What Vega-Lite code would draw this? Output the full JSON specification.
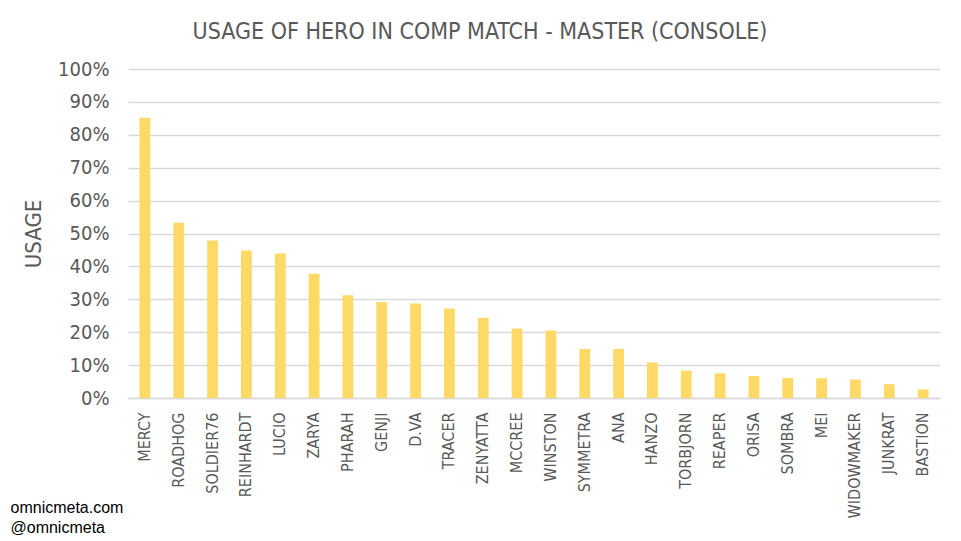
{
  "$schema": "https://vega.github.io/schema/vega-lite/v6.json",
  "width": 812,
  "height": 329,
  "autosize": {"type": "none"},
  "padding": {"left": 128, "top": 69, "right": 21, "bottom": 143},
  "background": "white",
  "title": {
    "text": "USAGE OF HERO IN COMP MATCH - MASTER (CONSOLE)",
    "font": "DejaVu Sans Condensed, Liberation Sans Narrow, sans-serif",
    "fontSize": 23,
    "fontWeight": "normal",
    "color": "#595959",
    "anchor": "middle",
    "dx": -54,
    "offset": 15
  },
  "data": {
    "values": [
      {"hero": "MERCY", "usage": 0.852},
      {"hero": "ROADHOG", "usage": 0.533},
      {"hero": "SOLDIER76", "usage": 0.479},
      {"hero": "REINHARDT", "usage": 0.448},
      {"hero": "LUCIO", "usage": 0.439},
      {"hero": "ZARYA", "usage": 0.378},
      {"hero": "PHARAH", "usage": 0.312},
      {"hero": "GENJI", "usage": 0.292},
      {"hero": "D.VA", "usage": 0.287},
      {"hero": "TRACER", "usage": 0.272},
      {"hero": "ZENYATTA", "usage": 0.244},
      {"hero": "MCCREE", "usage": 0.211},
      {"hero": "WINSTON", "usage": 0.205},
      {"hero": "SYMMETRA", "usage": 0.149},
      {"hero": "ANA", "usage": 0.149},
      {"hero": "HANZO", "usage": 0.108},
      {"hero": "TORBJORN", "usage": 0.083},
      {"hero": "REAPER", "usage": 0.075},
      {"hero": "ORISA", "usage": 0.067},
      {"hero": "SOMBRA", "usage": 0.061},
      {"hero": "MEI", "usage": 0.060},
      {"hero": "WIDOWMAKER", "usage": 0.056},
      {"hero": "JUNKRAT", "usage": 0.042},
      {"hero": "BASTION", "usage": 0.026}
    ]
  },
  "mark": {"type": "bar", "color": "#ffd966"},
  "encoding": {
    "x": {
      "field": "hero",
      "type": "nominal",
      "sort": null,
      "scale": {"paddingInner": 0.68, "paddingOuter": 0.34},
      "axis": {
        "title": ["omnicmeta.com", "@omnicmeta"],
        "titleFont": "Liberation Sans, Arial, sans-serif",
        "titleFontSize": 16,
        "titleFontWeight": "normal",
        "titleColor": "#000000",
        "titleAlign": "left",
        "titleAnchor": "start",
        "titleBaseline": "top",
        "titleLineHeight": 20,
        "titleX": -118,
        "titleY": 101,
        "labelAngle": -90,
        "labelFont": "DejaVu Sans Condensed, Liberation Sans Narrow, sans-serif",
        "labelFontSize": 16,
        "labelColor": "#595959",
        "labelPadding": 14,
        "ticks": false,
        "domain": true,
        "domainColor": "#d9d9d9",
        "domainWidth": 1.5
      }
    },
    "y": {
      "field": "usage",
      "type": "quantitative",
      "scale": {"domain": [0, 1]},
      "axis": {
        "title": "USAGE",
        "titleFont": "DejaVu Sans Condensed, Liberation Sans Narrow, sans-serif",
        "titleFontSize": 22,
        "titleFontWeight": "normal",
        "titleColor": "#595959",
        "titlePadding": 12,
        "format": ".0%",
        "values": [0, 0.1, 0.2, 0.3, 0.4, 0.5, 0.6, 0.7, 0.8, 0.9, 1],
        "labelFont": "DejaVu Sans Condensed, Liberation Sans Narrow, sans-serif",
        "labelFontSize": 20,
        "labelColor": "#595959",
        "labelPadding": 19,
        "ticks": false,
        "domain": false,
        "gridColor": "#d9d9d9",
        "gridWidth": 1.5
      }
    }
  },
  "config": {
    "view": {"stroke": null}
  }
}
